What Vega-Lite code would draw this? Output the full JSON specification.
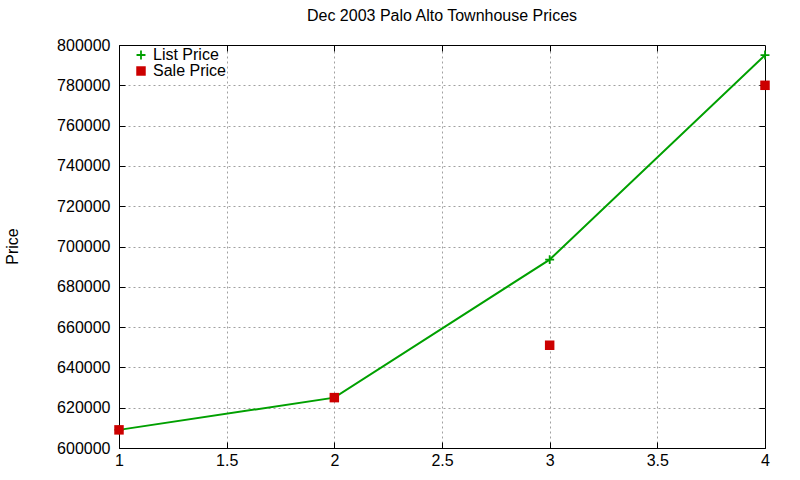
{
  "$schema": "https://vega.github.io/schema/vega-lite/v6.json",
  "width": 646,
  "height": 403,
  "autosize": {"type": "none"},
  "padding": {"left": 119, "top": 45, "right": 35, "bottom": 32},
  "background": "white",
  "config": {
    "font": "Liberation Sans",
    "view": {"stroke": "black", "strokeWidth": 1},
    "axis": {"labelFont": "Liberation Sans", "titleFont": "Liberation Sans", "labelFontSize": 16, "titleFontSize": 16, "titleFontWeight": "normal", "labelColor": "black", "titleColor": "black", "domainColor": "black", "tickColor": "black", "gridColor": "#a0a0a0", "gridDash": [2, 3], "gridOpacity": 1, "labelOverlap": false}
  },
  "title": {"text": "Dec 2003 Palo Alto Townhouse Prices", "fontSize": 16, "fontWeight": "normal", "font": "Liberation Sans", "color": "black", "offset": 13},
  "data": {"values": [
    {"x": 1, "price": 609000, "series": "List Price"},
    {"x": 2, "price": 625000, "series": "List Price"},
    {"x": 3, "price": 693500, "series": "List Price"},
    {"x": 4, "price": 795000, "series": "List Price"},
    {"x": 1, "price": 609000, "series": "Sale Price"},
    {"x": 2, "price": 625000, "series": "Sale Price"},
    {"x": 3, "price": 651000, "series": "Sale Price"},
    {"x": 4, "price": 780000, "series": "Sale Price"}
  ]},
  "resolve": {"axis": {"x": "independent", "y": "independent"}},
  "layer": [
    {
      "mark": {"type": "point", "opacity": 0},
      "encoding": {
        "x": {"field": "x", "type": "quantitative", "scale": {"domain": [1, 4], "nice": false, "zero": false},
          "axis": {"orient": "top", "title": null, "values": [1.5, 2, 2.5, 3, 3.5], "grid": true, "labels": false, "ticks": true, "tickSize": -6, "domain": false}},
        "y": {"field": "price", "type": "quantitative", "scale": {"domain": [600000, 800000], "nice": false, "zero": false},
          "axis": {"orient": "right", "title": null, "values": [620000, 640000, 660000, 680000, 700000, 720000, 740000, 760000, 780000], "grid": true, "labels": false, "ticks": true, "tickSize": -6, "domain": false}}
      }
    },
    {
      "transform": [{"filter": "datum.series === 'List Price'"}],
      "mark": {"type": "line", "strokeWidth": 2, "color": "#00a000"},
      "encoding": {
        "x": {"field": "x", "type": "quantitative", "axis": null},
        "y": {"field": "price", "type": "quantitative", "axis": null}
      }
    },
    {
      "mark": {"type": "point", "filled": true, "opacity": 1},
      "encoding": {
        "x": {"field": "x", "type": "quantitative",
          "axis": {"orient": "bottom", "title": null, "values": [1, 1.5, 2, 2.5, 3, 3.5, 4], "format": "~g", "grid": false, "tickSize": -6, "labelPadding": 10, "labelFlush": false}},
        "y": {"field": "price", "type": "quantitative",
          "axis": {"orient": "left", "title": "Price", "format": "d", "grid": false, "values": [600000, 620000, 640000, 660000, 680000, 700000, 720000, 740000, 760000, 780000, 800000], "tickSize": -6, "labelPadding": 15, "titleX": -107, "titleY": 201, "titleAngle": -90, "titleAlign": "center", "titleBaseline": "middle", "labelFlush": false}},
        "color": {"field": "series", "type": "nominal", "scale": {"domain": ["List Price", "Sale Price"], "range": ["#00a000", "#cc0000"]},
          "legend": {"title": null, "orient": "none", "legendX": 14, "legendY": 2, "labelFontSize": 16, "labelFont": "Liberation Sans", "labelColor": "black", "symbolSize": 100, "rowPadding": 0}},
        "shape": {"field": "series", "type": "nominal", "scale": {"domain": ["List Price", "Sale Price"], "range": ["M-1,-0.2H-0.2V-1H0.2V-0.2H1V0.2H0.2V1H-0.2V0.2H-1Z", "square"]}, "legend": null},
        "size": {"field": "series", "type": "nominal", "scale": {"domain": ["List Price", "Sale Price"], "range": [80, 90]}, "legend": null}
      }
    }
  ]
}
